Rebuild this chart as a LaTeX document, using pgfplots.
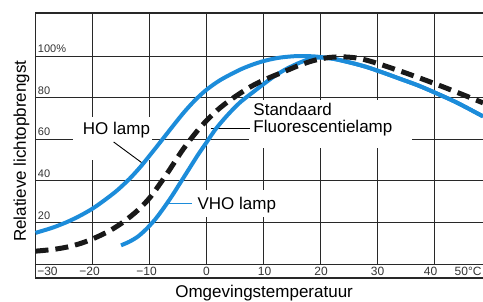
\documentclass[border=0pt]{standalone}
\usepackage{pgfplots}
\pgfplotsset{compat=1.18}
\usepackage{fontspec}
\setmainfont{Liberation Sans}
\definecolor{lampblue}{RGB}{28,140,218}
\definecolor{gridc}{RGB}{40,40,40}
\newcommand{\bigtxt}{\fontsize{17}{20}\selectfont}
\begin{document}
\begin{tikzpicture}
\begin{axis}[
  scale only axis, width=447.5pt, height=265pt,
  xmin=-30, xmax=48.5, ymin=-6.7, ymax=120.7,
  axis line style={draw=none}, xtick=\empty, ytick=\empty,
  clip=false,
]
% grid
\pgfplotsinvokeforeach{-20,-10,0,10,20,30,40}{\draw[gridc, line width=0.9pt] (axis cs:#1,0) -- (axis cs:#1,120.7);}
\pgfplotsinvokeforeach{0,20,40,60,80,100}{\draw[gridc, line width=0.9pt] (axis cs:-30,#1) -- (axis cs:48.5,#1);}
\draw[gridc, line width=1.1pt] (axis cs:48.5,120.7) -- (axis cs:-30,120.7) -- (axis cs:-30,-6.7) -- (axis cs:48.5,-6.7);
% white label boxes
\fill[white] (axis cs:-23.5,50) rectangle (axis cs:-9.6,70.5);
\fill[white] (axis cs:7.5,56) rectangle (axis cs:36,79);
\fill[white] (axis cs:-2,22.5) rectangle (axis cs:13.5,35.5);
% y tick labels
\begin{scope}[every node/.style={font=\fontsize{11}{12}\selectfont, text=black!80, anchor=south west, inner sep=0pt}]
\node at (axis cs:-29.6,101.5) {100\%};
\node at (axis cs:-29.6,81.5) {80};
\node at (axis cs:-29.6,61.5) {60};
\node at (axis cs:-29.6,41.5) {40};
\node at (axis cs:-29.6,21.5) {20};
\end{scope}
% x tick labels
\begin{scope}[every node/.style={font=\fontsize{12}{13}\selectfont, text=black!80, inner sep=0pt}]
\node at (axis cs:-27.9,-3.4) {−30};
\node at (axis cs:-20.5,-3.4) {−20};
\node at (axis cs:-10.5,-3.4) {−10};
\node at (axis cs:0,-3.4) {0};
\node at (axis cs:10.2,-3.4) {10};
\node at (axis cs:20.1,-3.4) {20};
\node at (axis cs:30,-3.4) {30};
\node at (axis cs:39.3,-3.4) {40};
\node[anchor=west] at (axis cs:43.5,-3.4) {50°C};
\end{scope}
% axis labels
\node[font=\bigtxt, anchor=base] at (axis cs:10.1,-16.1) {Omgevingstemperatuur};
\node[font=\bigtxt, anchor=base, rotate=90] at (axis cs:-31.7,54.3) {Relatieve lichtopbrengst};
% annotations
\node[font=\bigtxt, inner sep=0pt] at (axis cs:-15.8,64.4) {HO lamp};
\node[font=\bigtxt, anchor=west, inner sep=0pt] at (axis cs:8.2,74.2) {Standaard};
\node[font=\bigtxt, anchor=west, inner sep=0pt] at (axis cs:8.2,65.2) {Fluorescentielamp};
\node[font=\bigtxt, anchor=west, inner sep=0pt] at (axis cs:-1.6,28.4) {VHO lamp};
\draw[black, line width=0.9pt] (axis cs:-16.3,58.7) -- (axis cs:-11,48);
\draw[black, line width=0.9pt] (axis cs:0.7,65) -- (axis cs:7.7,65);
\draw[lampblue, line width=1pt] (axis cs:-7,29.3) -- (axis cs:-2.5,29.3);
% curves
\addplot[lampblue, line width=4pt, smooth] coordinates {
(-30,15.0) (-27,17.5) (-24.4,20.3) (-22,23.5) (-19.8,27) (-17.5,31.5) (-15.6,35.6)
(-13.5,41) (-11.6,46.7) (-9.5,53.8) (-8,59) (-6,66) (-4,72.8) (-2,78.8) (0,83.8)
(2.5,88.6) (6,93.6) (8.5,96.3) (10.6,98) (13,99.3) (16,100) (19,99.8) (22,98.8)
(25,97) (28,94.8) (31,92) (34,89) (37,86) (40,82.5) (44,77.5) (48.5,71)
};
\addplot[lampblue, line width=4pt, smooth] coordinates {
(-15,9) (-13.5,10.8) (-12,13.3) (-10.5,17) (-9,21.5) (-7.5,27) (-6,33) (-4.5,39.5)
(-3,46) (-1.5,52.5) (0,58.5) (1.5,64.5) (3,69.5) (4.5,74) (6,78) (8,82.3) (10,86.5)
(12,90.5) (14,93.8) (16.5,97) (19,99.2) (22,98.8) (25,97) (28,94.8) (31,92) (34,89)
(37,86) (40,82.5) (44,77.5) (48.5,71)
};
\addplot[black!90, line width=5pt, smooth, dash pattern=on 13pt off 7pt] coordinates {
(-30,6.2) (-27,7) (-24.4,8.2) (-22,10) (-19.8,12.3) (-17,16) (-14.4,20.6) (-12,26)
(-9.8,32.4) (-6.9,43.6) (-4,55.6) (-1,66) (1.9,74) (4.5,79.5) (7.7,85.2) (10.5,89)
(13.6,92.5) (16.5,95.8) (19,98) (21.5,99.3) (24,99.6) (26.5,99) (29,97.3) (31.8,94.8)
(35,91.8) (39.3,87.5) (44,82.5) (48.5,77.5)
};
\end{axis}
\pgfresetboundingbox
\path[use as bounding box] (-35.5pt,-24pt) rectangle (447.5pt,278pt);
\end{tikzpicture}
\end{document}
